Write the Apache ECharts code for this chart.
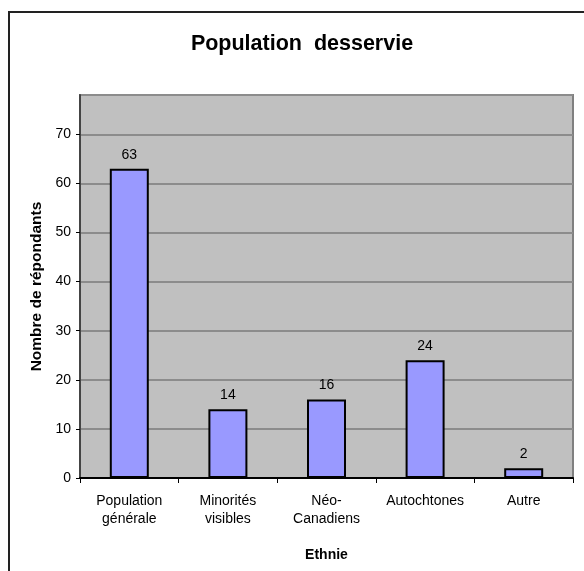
<!DOCTYPE html>
<html>
<head>
<meta charset="utf-8">
<script src="https://cdn.jsdelivr.net/npm/echarts@6/dist/echarts.min.js"></script>
<style>
html,body{margin:0;padding:0;background:#fff;}
#chart{width:584px;height:571px;}
</style>
</head>
<body>
<div id="chart"></div>
<script>
var categories = ['Population\ngénérale', 'Minorités\nvisibles', 'Néo-\nCanadiens', 'Autochtones', 'Autre'];
var values = [63, 14, 16, 24, 2];
var yTicks = [0, 10, 20, 30, 40, 50, 60, 70];
var titleText = 'Population  desservie';
var xAxisName = 'Ethnie';
var yAxisName = 'Nombre de répondants';

var chart = echarts.init(document.getElementById('chart'), null, {renderer: 'canvas'});
var font = '"Liberation Sans", Arial, sans-serif';
chart.setOption({
  animation: false,
  textStyle: {fontFamily: font},
  title: {
    text: titleText,
    left: 297, top: 28,
    textAlign: 'center',
    textStyle: {fontFamily: font, fontSize: 21.5, fontWeight: 'bold', color: '#000'}
  },
  graphic: [{
    type: 'rect',
    shape: {x: 9, y: 12, width: 700, height: 700},
    style: {fill: 'none', stroke: '#222', lineWidth: 2},
    z: -1
  }],
  grid: {
    left: 80, right: 11, top: 95, bottom: 93,
    show: true, backgroundColor: '#C0C0C0', borderColor: '#808080', borderWidth: 2
  },
  xAxis: {
    type: 'category',
    data: categories,
    name: xAxisName,
    nameLocation: 'middle',
    nameGap: 70,
    nameTextStyle: {fontFamily: font, fontSize: 14, fontWeight: 'bold', color: '#000'},
    axisLine: {lineStyle: {color: '#000', width: 2}},
    axisTick: {show: true, length: 5, lineStyle: {color: '#000', width: 1}},
    axisLabel: {fontFamily: font, fontSize: 14, color: '#000', lineHeight: 18, margin: 14, interval: 0}
  },
  yAxis: {
    type: 'value',
    min: 0, max: 78, interval: 10,
    name: yAxisName,
    nameLocation: 'middle',
    nameRotate: 90,
    nameGap: 31,
    nameTextStyle: {fontFamily: font, fontSize: 15.5, fontWeight: 'bold', color: '#000'},
    axisLine: {show: true, lineStyle: {color: '#444', width: 2}},
    axisTick: {show: true, length: 4, lineStyle: {color: '#000', width: 1}},
    axisLabel: {
      fontFamily: font, fontSize: 14, color: '#000', margin: 9,
      showMaxLabel: false,
      formatter: function (v) { return yTicks.indexOf(v) >= 0 ? String(v) : ''; }
    },
    splitLine: {show: true, lineStyle: {color: '#8c8c8c', width: 2}}
  },
  series: [{
    type: 'bar',
    data: values,
    barWidth: 39,
    itemStyle: {color: '#9999FF', borderColor: '#000', borderWidth: 2},
    label: {show: true, position: 'top', distance: 7, fontFamily: font, fontSize: 14, color: '#000'}
  }]
});
</script>
</body>
</html>
